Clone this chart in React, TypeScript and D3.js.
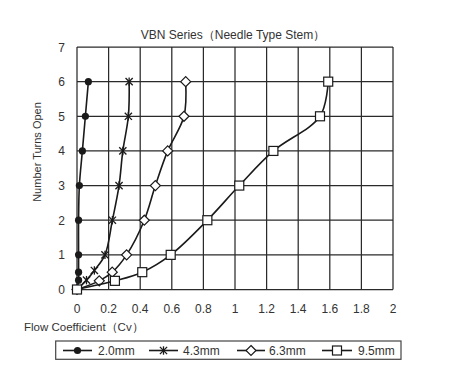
import React from "react";
import * as d3 from "d3";

const seriesNames = ["2.0mm", "4.3mm", "6.3mm", "9.5mm"];
const markerKinds = ["circle", "asterisk", "diamond", "square"];

const turns20 = [0, 0.27, 0.5, 1, 2, 3, 4, 5, 6];
const cv20 = [0, 0.01, 0.01, 0.01, 0.01, 0.015, 0.034, 0.053, 0.072];

const turns43 = [0, 0.27, 0.55, 1, 2, 3, 4, 5, 6];
const cv43 = [0, 0.06, 0.11, 0.177, 0.224, 0.266, 0.29, 0.325, 0.33];

const turns63 = [0, 0.25, 0.5, 1, 2, 3, 4, 5, 6];
const cv63 = [0, 0.141, 0.223, 0.314, 0.426, 0.496, 0.574, 0.677, 0.688];

const turns95 = [0, 0.25, 0.5, 1, 2, 3, 4, 5, 6];
const cv95 = [0, 0.24, 0.413, 0.593, 0.825, 1.027, 1.243, 1.538, 1.59];

const xTicks = [0, 0.2, 0.4, 0.6, 0.8, 1, 1.2, 1.4, 1.6, 1.8, 2];
const yTicks = [0, 1, 2, 3, 4, 5, 6, 7];

const seriesCv = [cv20, cv43, cv63, cv95];
const seriesTurns = [turns20, turns43, turns63, turns95];

const FONT = "'Liberation Sans', Arial, sans-serif";
const TEXT = "#333";
const INK = "#1a1a1a";

function Marker({ kind, x, y }: { kind: string; x: number; y: number }) {
  if (kind === "circle") return <circle cx={x} cy={y} r={3.6} fill={INK} />;
  if (kind === "diamond")
    return (
      <path
        d={`M${x},${y - 5}L${x + 5},${y}L${x},${y + 5}L${x - 5},${y}Z`}
        fill="#fff"
        stroke={INK}
        strokeWidth={1.2}
      />
    );
  if (kind === "square")
    return <rect x={x - 4.5} y={y - 4.5} width={9} height={9} fill="#fff" stroke={INK} strokeWidth={1.2} />;
  const s = 3.6;
  return (
    <g stroke={INK} strokeWidth={1.3}>
      <line x1={x - s} y1={y - s} x2={x + s} y2={y + s} />
      <line x1={x - s} y1={y + s} x2={x + s} y2={y - s} />
      <line x1={x} y1={y - s - 0.6} x2={x} y2={y + s + 0.6} />
    </g>
  );
}

export default function App() {
  const W = 450;
  const H = 387;
  const left = 77;
  const right = 393;
  const top = 47;
  const bottom = 289.5;
  const x = d3.scaleLinear().domain([0, 2]).range([left, right]);
  const y = d3.scaleLinear().domain([0, 7]).range([bottom, top]);
  const line = d3
    .line<[number, number]>()
    .x((d) => x(d[0]))
    .y((d) => y(d[1]))
    .curve(d3.curveCatmullRom.alpha(0.5));

  const legendLines = [
    [63, 92, 98],
    [149, 178, 183],
    [237, 265, 269],
    [322, 352, 358],
  ];
  const ly = 350.5;

  return (
    <svg
      width={W}
      height={H}
      style={{ position: "absolute", left: 0, top: 0, background: "#fff" }}
      fontFamily={FONT}
    >
      <rect x={0} y={0} width={W} height={H} fill="#fff" />
      <text x={233} y={39} textAnchor="middle" fontSize={12} fill={TEXT}>
        VBN Series（Needle Type Stem）
      </text>
      {/* grid */}
      <g stroke="#2a2a2a" strokeWidth={1.25}>
        {xTicks.map((t) => (
          <line key={"gx" + t} x1={x(t)} x2={x(t)} y1={top} y2={bottom} />
        ))}
        {yTicks.map((t) => (
          <line key={"gy" + t} x1={left} x2={right} y1={y(t)} y2={y(t)} />
        ))}
      </g>
      {yTicks.map((t) => (
        <text key={"ty" + t} x={65} y={y(t) + 4.5} textAnchor="end" fontSize={12} fill={TEXT}>
          {t}
        </text>
      ))}
      {xTicks.map((t) => (
        <text key={"tx" + t} x={x(t)} y={312.5} textAnchor="middle" fontSize={12} fill={TEXT}>
          {t}
        </text>
      ))}
      <text
        transform={`translate(41,152) rotate(-90)`}
        textAnchor="middle"
        fontSize={11}
        fill={TEXT}
      >
        Number Turns Open
      </text>
      <text x={24} y={331} fontSize={11.5} fill={TEXT}>
        Flow Coefficient（Cv）
      </text>
      {/* series */}
      {seriesCv.map((cvs, i) => {
        const pts: [number, number][] = cvs.map((c, j) => [c, seriesTurns[i][j]]);
        return (
          <g key={"s" + i}>
            <path d={line(pts) || ""} fill="none" stroke={INK} strokeWidth={1.6} />
            {pts.map((p, j) => (
              <Marker key={j} kind={markerKinds[i]} x={x(p[0])} y={y(p[1])} />
            ))}
          </g>
        );
      })}
      {/* legend */}
      <rect x={55.7} y={341} width={345.3} height={18.3} fill="#fff" stroke="#444" strokeWidth={1.2} />
      {seriesNames.map((n, i) => {
        const [a, b, tx] = legendLines[i];
        return (
          <g key={"l" + i}>
            <line x1={a} x2={b} y1={ly} y2={ly} stroke={INK} strokeWidth={1.6} />
            <Marker kind={markerKinds[i]} x={(a + b) / 2} y={ly} />
            <text x={tx} y={ly + 4.5} fontSize={12} fill={TEXT}>
              {n}
            </text>
          </g>
        );
      })}
    </svg>
  );
}
